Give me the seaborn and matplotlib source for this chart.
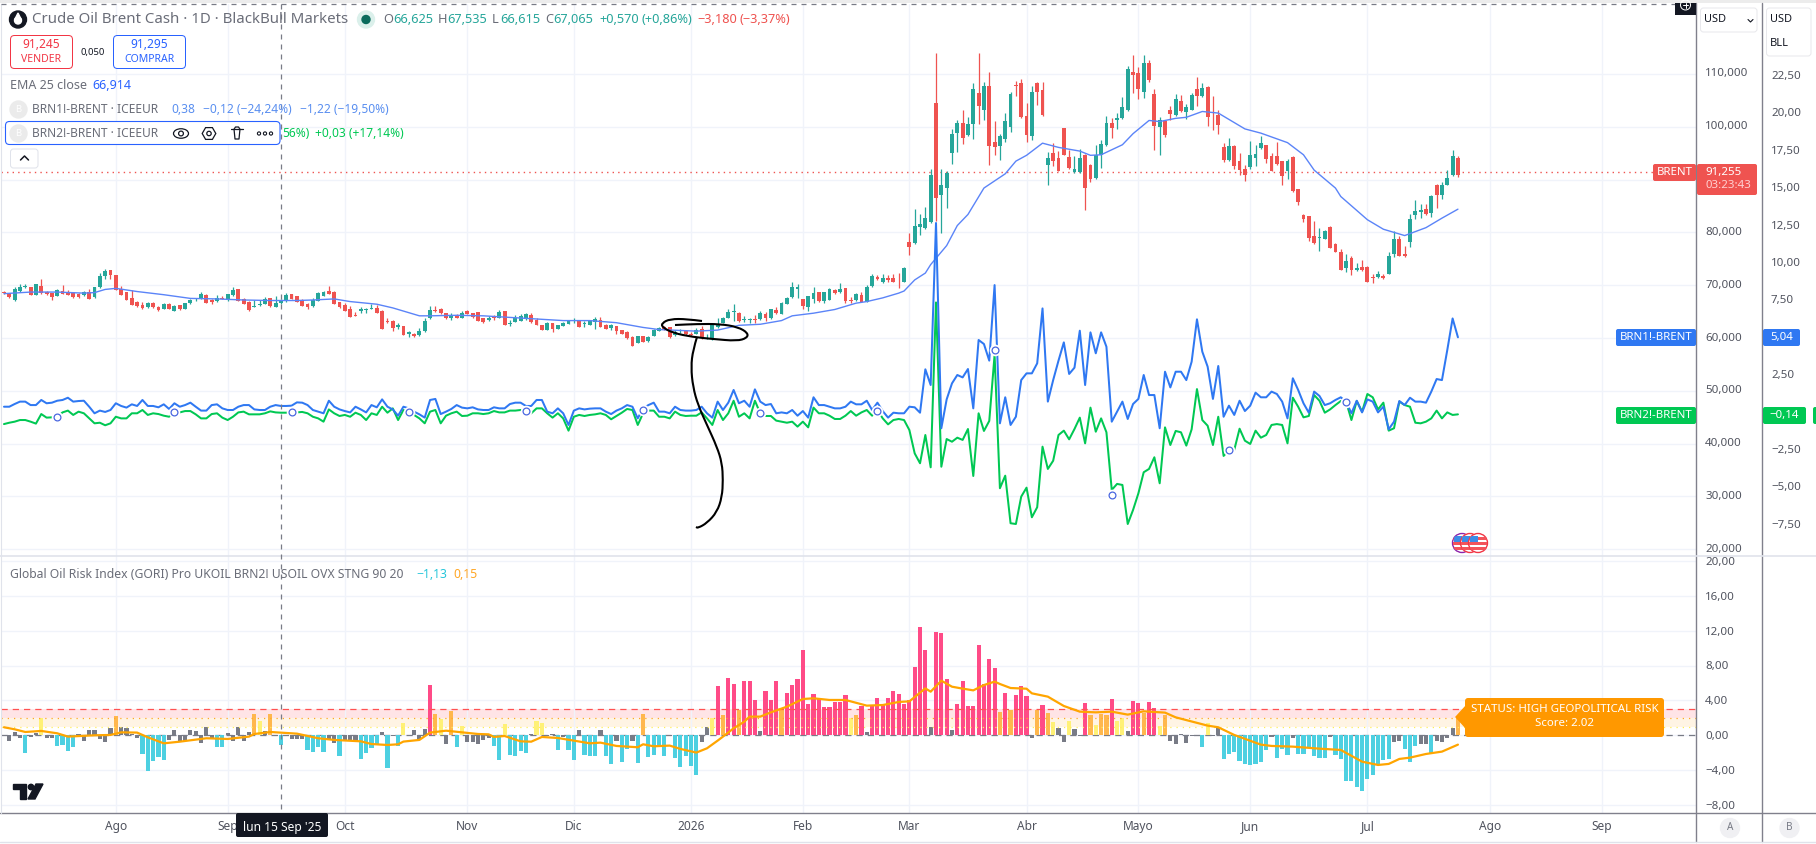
import numpy as np
import pandas as pd
import matplotlib
matplotlib.use("Agg")
import matplotlib.pyplot as plt
from matplotlib.patches import Circle, Ellipse, FancyBboxPatch, PathPatch, Polygon, Rectangle, RegularPolygon
from matplotlib.path import Path
import seaborn as sns

# ---------------------- DATA ----------------------

opens = [68.7,68.5,67.2,68.9,69.7,69.6,68.2,69.9,68.8,68.5,
         68.0,68.9,68.8,68.5,68.4,68.1,68.8,67.7,69.6,71.7,
         72.8,71.9,69.2,68.8,67.6,66.9,66.3,65.8,66.7,65.9,
         65.4,66.5,65.2,66.2,65.5,66.6,67.3,67.4,68.2,67.2,
         67.1,67.6,67.2,68.1,69.2,67.4,66.9,65.9,66.2,66.5,
         67.6,65.8,66.6,67.0,68.3,67.9,67.2,66.5,66.0,67.1,
         68.0,68.9,68.8,66.9,66.3,65.5,64.4,65.2,65.3,65.5,
         65.6,65.2,63.1,63.3,62.1,62.2,60.8,60.8,60.5,61.3,
         63.7,65.3,65.5,64.7,63.7,64.4,63.8,65.2,64.7,64.9,
         63.7,63.5,63.9,63.8,65.1,62.6,63.1,63.3,63.6,64.4,
         63.5,62.4,61.6,62.8,61.7,62.2,62.6,63.2,63.3,62.7,
         62.4,63.1,63.5,62.5,61.9,62.2,61.5,61.2,60.2,59.0,
         60.4,59.4,60.3,61.4,62.0,62.0,60.5,61.3,61.3,60.8,
         60.8,61.7,60.3,59.8,62.0,62.9,63.7,65.0,64.8,63.5,
         63.4,63.6,63.6,64.6,63.7,65.3,64.6,66.5,67.7,69.3,
         67.4,65.8,67.4,68.7,67.1,67.2,69.0,68.7,69.4,67.2,
         67.2,68.2,66.9,69.8,71.6,70.6,71.3,71.3,71.2,70.7,
         78.2,77.9,81.1,80.9,82.0,104.5,87.0,88.5,95.1,98.9,
         100.7,98.5,100.6,106.4,103.1,107.8,97.2,96.4,97.7,99.9,
         108.0,108.3,102.1,98.3,108.3,107.0,92.8,95.0,94.1,99.7,
         94.3,91.5,91.5,94.7,92.8,90.3,94.7,96.5,100.8,101.2,
         101.6,103.2,110.4,110.1,106.6,112.1,106.3,100.0,101.1,103.2,
         102.2,104.9,102.8,103.2,107.2,105.8,107.5,101.9,102.2,96.1,
         93.7,96.4,93.5,92.0,92.3,94.0,95.9,96.5,94.5,94.5,
         93.5,91.6,94.2,88.2,83.3,83.1,79.3,79.0,78.7,81.0,
         77.8,76.3,73.3,75.1,72.8,73.4,73.4,71.5,71.6,71.7,
         72.1,75.9,78.7,76.0,78.2,83.3,83.9,84.4,83.7,88.9,
         87.1,89.0,90.8,94.1]
highs = [68.9,68.6,69.7,70.3,70.3,69.7,70.3,71.1,68.9,68.6,
         69.2,70.1,69.1,68.7,68.6,68.9,69.2,69.7,72.4,73.0,
         72.9,72.0,69.9,68.8,69.0,67.0,66.9,66.9,66.8,66.0,
         66.6,66.6,66.2,66.3,66.7,67.4,67.6,68.7,68.3,67.4,
         68.1,67.9,68.4,69.6,69.2,67.5,67.0,67.2,67.2,67.8,
         67.6,68.0,67.4,68.5,68.4,68.0,67.4,66.7,67.6,68.7,
         68.9,69.9,68.9,66.9,66.6,66.1,65.0,65.8,65.7,66.4,
         66.3,65.3,63.8,63.4,62.9,62.3,61.3,61.0,61.8,63.7,
         66.0,66.0,65.6,64.7,64.7,64.5,65.1,65.3,64.8,65.0,
         63.8,64.2,64.3,65.3,65.2,63.4,64.4,64.6,64.8,64.7,
         63.8,62.4,63.1,62.8,62.5,63.0,63.4,63.7,63.3,63.3,
         63.5,64.0,63.9,62.6,62.6,62.3,61.5,61.3,60.3,60.4,
         60.4,60.3,61.7,62.0,62.2,62.0,61.5,61.7,61.6,61.2,
         61.9,62.2,60.8,62.8,63.7,63.9,65.4,66.5,64.9,64.2,
         63.8,64.4,65.1,64.9,65.5,65.8,66.9,67.8,70.6,70.3,
         67.4,68.0,69.7,68.8,68.8,69.5,69.3,70.4,69.4,67.7,
         68.5,68.8,70.1,72.1,71.9,72.2,71.9,72.1,72.3,73.5,
         79.8,84.4,83.4,84.9,92.0,113.9,92.0,91.6,99.6,101.2,
         103.2,101.8,108.3,113.9,108.5,110.4,101.1,98.7,102.7,106.6,
         108.7,109.1,104.5,107.7,108.4,108.5,95.3,96.9,95.5,99.8,
         95.6,94.4,95.8,94.8,92.9,96.5,97.5,102.1,101.6,102.6,
         105.6,111.5,113.6,111.3,113.6,112.7,107.2,101.8,101.2,104.0,
         106.3,106.1,104.4,106.4,109.5,108.3,107.8,105.9,103.2,96.9,
         97.8,96.5,95.0,92.8,97.3,96.6,98.3,96.6,95.0,97.2,
         93.6,93.9,94.4,88.3,83.5,83.2,82.1,80.8,80.4,81.2,
         77.9,76.8,76.0,75.5,74.2,74.7,73.6,72.2,72.6,72.2,
         76.2,80.2,79.3,77.4,83.5,86.1,85.4,85.4,87.1,89.2,
         89.6,91.8,95.6,94.5]
lows = [68.3,67.6,67.1,68.8,69.4,68.1,68.1,68.4,68.2,67.2,
        67.9,68.3,68.1,67.6,67.6,67.9,67.4,67.6,69.4,71.2,
        71.2,69.0,68.1,67.2,66.2,65.9,65.4,65.7,65.7,65.1,
        65.4,65.4,65.1,65.3,65.4,66.5,67.1,67.3,66.7,66.5,
        66.9,67.3,67.1,68.0,67.1,66.4,65.1,65.8,66.0,66.4,
        65.9,65.8,66.5,66.9,67.3,66.9,66.0,65.4,65.9,67.0,
        67.9,68.3,66.4,65.7,65.1,64.0,64.2,64.8,64.7,65.4,
        64.7,61.7,62.9,61.3,61.7,60.6,60.2,60.2,60.3,61.2,
        63.6,64.9,64.6,63.6,63.5,63.7,63.7,64.5,63.8,63.2,
        62.9,63.3,63.4,63.7,62.4,62.3,63.0,63.2,63.5,62.9,
        62.4,61.5,61.5,61.2,61.7,62.2,62.6,62.8,62.0,62.0,
        62.4,61.7,62.0,61.7,61.6,60.8,60.7,59.9,58.4,59.0,
        59.2,59.3,60.3,61.3,61.5,60.0,60.4,61.0,60.6,60.3,
        60.8,59.9,59.9,59.7,61.9,62.8,63.7,63.3,63.0,63.0,
        62.9,62.9,63.4,63.2,63.6,64.6,64.5,66.4,67.6,67.6,
        65.4,65.1,66.7,66.9,66.6,67.2,68.4,68.6,66.7,66.6,
        67.1,66.8,66.8,69.7,70.9,70.5,70.7,70.6,69.4,70.6,
        75.7,77.8,79.5,80.6,81.8,82.2,79.9,84.7,93.0,95.3,
        96.8,98.3,97.7,100.6,101.3,92.8,94.7,93.7,97.2,99.0,
        105.8,101.7,97.2,97.5,104.2,102.1,89.0,92.5,91.6,94.6,
        92.0,91.3,91.3,84.2,89.6,90.2,92.2,96.4,97.9,99.6,
        101.5,102.9,106.4,105.3,105.4,108.4,95.6,94.7,98.0,101.2,
        102.1,102.8,101.5,103.2,104.0,105.6,100.2,99.4,98.7,93.4,
        93.6,92.1,90.8,89.8,92.1,92.6,95.8,93.1,91.6,92.8,
        89.0,90.1,87.7,85.2,81.9,78.4,77.8,76.5,78.7,77.0,
        76.3,72.8,72.5,71.9,72.7,72.6,70.6,70.4,71.4,71.2,
        72.1,75.4,75.5,75.4,77.2,82.5,82.8,83.3,83.0,84.7,
        86.4,88.9,90.7,90.4]
closes = [68.5,67.8,69.2,69.6,69.8,68.2,70.2,68.5,68.3,67.8,
          69.0,68.4,68.2,67.8,67.8,68.7,67.4,69.6,71.7,72.7,
          71.9,69.0,68.2,67.2,66.3,66.0,65.6,66.6,65.8,65.3,
          66.5,65.5,66.1,65.4,66.6,67.2,67.4,68.3,66.7,66.9,
          67.5,67.4,68.3,69.0,67.1,66.5,65.3,66.0,66.5,67.4,
          66.0,66.6,67.2,68.2,67.4,66.9,66.0,65.8,67.2,68.5,
          68.7,68.4,66.5,65.8,65.2,64.0,64.2,65.4,65.5,65.6,
          64.7,61.7,63.0,61.9,62.4,60.6,61.2,60.4,61.3,63.3,
          65.3,65.1,64.7,63.7,64.4,63.8,64.7,64.6,64.0,63.3,
          63.1,63.7,63.8,64.9,62.5,62.7,63.8,64.2,64.6,63.0,
          62.5,61.6,62.8,61.7,62.4,62.9,63.3,63.3,62.1,62.8,
          63.3,63.6,62.1,61.7,62.4,61.3,60.8,60.0,58.5,60.3,
          59.2,60.1,61.5,61.9,61.7,60.1,61.2,61.4,60.7,60.6,
          61.6,60.1,60.4,62.6,62.6,63.7,64.9,65.1,63.2,63.6,
          63.5,63.5,64.8,63.7,65.4,64.7,66.7,67.6,69.7,69.7,
          66.1,67.9,68.5,67.0,68.8,69.2,68.6,69.3,67.0,67.1,
          68.3,66.9,69.7,71.7,71.1,71.3,70.9,70.7,71.1,73.2,
          77.3,81.2,81.6,82.7,90.9,86.5,89.0,91.3,98.7,100.8,
          97.8,100.6,107.2,103.9,107.8,96.4,96.1,98.2,101.1,106.3,
          107.8,101.8,98.5,106.6,106.5,102.3,94.0,93.6,91.7,94.7,
          92.2,92.0,94.1,88.5,90.1,94.6,96.8,100.8,99.8,101.7,
          103.7,111.0,109.9,107.2,112.1,108.8,100.1,101.3,98.5,102.4,
          105.3,102.9,103.7,106.1,105.9,107.3,101.9,101.8,100.4,93.7,
          96.4,92.5,91.8,90.9,94.6,94.9,96.9,93.9,91.6,92.9,
          90.7,93.5,87.9,85.7,82.5,78.9,77.9,79.0,80.2,77.1,
          76.3,72.8,74.6,72.8,73.2,72.8,70.6,71.3,72.2,71.4,
          75.5,78.7,75.6,75.5,82.5,84.0,84.2,83.5,86.8,87.0,
          89.0,90.3,94.5,90.8]

ema_bars = [0,5,10,15,17,19,21,25,30,35,40,45,50,55,58,62,65,70,73,78,80,85,90,95,100,105,110,115,120,123,
            130,134,138,142,146,148,152,156,160,162,165,168,169,171,173,174,177,179,181,184,188,190,192,195,198,
            202,204,206,210,212,215,217,220,222,225,228,233,236,241,244,246,250,251,256,259,263,267,270,273]
ema_vals = [68.4,68.7,68.7,68.5,68.6,69.2,69.4,68.8,68.2,67.5,67.4,67.2,67.1,67.1,67.2,67.4,66.9,66.4,65.7,64.2,
            64.2,64.3,64.2,63.9,63.6,63.3,63.3,62.9,62.0,61.6,61.3,61.5,62.4,62.6,63.3,64.2,64.7,65.4,66.6,66.9,
            67.6,68.5,68.9,71.0,72.3,73.9,77.5,81.3,83.4,88.4,91.1,93.5,94.6,96.9,96.1,95.4,94.6,94.7,96.6,98.7,
            101.2,101.0,101.6,101.8,102.9,102.6,99.6,98.8,97.0,94.7,91.8,88.4,86.8,82.4,80.6,79.4,80.9,82.7,84.4]

brn1_spread = [.32,.32,.50,.66,.66,.43,.43,.77,.55,.59,.72,.77,.92,.66,.70,.72,.32,-.12,.06,-.03,
               .10,.55,.37,.26,.48,.37,.77,.37,.37,.28,.48,.17,.55,.32,.43,.59,.32,.06,.06,.43,
               .48,.21,.10,.10,.32,.43,.43,.14,.10,.10,.32,.43,.37,.37,.39,.61,.59,.43,.10,-.01,
               -.12,.72,.32,.14,.03,-.06,.32,.14,-.06,.43,.28,.81,.32,.14,-.28,.32,.21,-.01,-.19,-.41,
               .77,.84,-.17,-.01,.17,.43,.26,.21,.28,.14,
               .10,.10,.28,.21,.21,.50,.59,.59,.37,.37,.77,.77,-.01,-.12,.21,-.12,-.90,.06,.21,.14,
               .19,.21,.21,-.01,-.17,.06,.21,.43,.32,-.46,.21,.43,.59,-.01,-.01,-.12,.32,.10,.06,.06,
               .10,.32,-.12,-.41,.66,.10,.59,1.44,.55,.72,.32,1.48,.66,.43,.50,-.12,-.06,-.12,.10,-.28,
               .03,-.41,.95,.43,.43,.32,.21,.21,.32,.66,.48,.48,.72,.10,.59,.03,-.41,-.08,-.12,-.12,
               .32,.28,-.08,2.82,1.77,12.6,-1.12,.81,1.88,2.44,2.28,2.84,.21,4.78,4.51,3.40,8.45,-.79,.95,-.90,
               -.35,2.10,2.55,2.55,3.22,6.89,.66,2.10,3.40,4.62,2.51,2.93,5.40,1.77,5.29,3.89,5.29,4.33,-.68,-.01,
               .66,-.50,.50,.84,2.44,1.10,1.10,-1.12,2.66,1.61,2.66,2.66,2.10,3.33,6.16,4.00,3.00,.84,3.04,-.35,
               .39,-.23,.72,.03,.39,1.26,.95,.95,1.33,1.17,.66,-.46,2.22,1.44,.55,-.08,1.33,1.04,.43,.55,
               .77,.95,.66,-.12,.72,-.06,.81,.66,-.06,.32,-1.19,-.68,.70,.43,.92,.66,.66,.59,1.33,2.17,
               2.10,4.11,6.22,4.96]
brn2_spread = [-.84,-.75,-.68,-.57,-.57,-.68,-.81,-.17,-.41,-.39,-.35,-.06,.06,-.23,-.01,-.12,-.46,-.79,-.75,-.92,
               -.79,-.35,-.46,-.46,-.12,-.12,.10,-.23,-.12,-.17,-.28,-.35,-.06,-.06,.03,.03,-.19,-.46,-.46,-.17,
               -.12,-.41,-.57,-.35,-.06,-.01,-.19,-.19,-.19,-.12,.01,-.06,-.08,-.08,-.06,-.06,-.03,-.12,-.35,-.46,
               -.68,.14,-.12,-.30,-.23,-.35,-.08,-.23,-.57,-.12,-.23,.32,-.08,.21,-.57,.10,-.06,-.23,-.46,-.79,
               -.01,.10,-.79,-.28,-.12,-.01,-.30,-.28,-.12,-.12,
               -.17,-.12,.03,-.06,-.06,.06,.06,.10,-.01,-.12,.21,.21,-.12,-.41,-.12,-.46,-1.28,-.35,-.23,-.30,
               -.23,-.19,-.12,-.23,-.52,-.30,-.08,.17,.10,-.90,-.12,.06,.06,-.35,-.35,-.46,-.01,-.23,-.30,-.28,
               -.28,-.06,-.46,-.90,.10,-.57,-.12,.72,-.35,-.12,-.46,.72,-.12,-.30,-.30,-.61,-.68,-.75,-.68,-1.01,
               -.68,-1.06,.26,-.12,-.12,-.28,-.50,-.50,-.28,.03,-.28,-.06,.10,-.28,.10,-.46,-.86,-.57,-.50,-.57,
               -1.24,-2.80,-3.46,-1.57,-3.73,7.29,-3.69,-1.84,-2.02,-1.75,-1.90,-1.17,-4.31,-.12,-1.30,-.63,3.78,-5.13,-4.29,-7.47,
               -7.52,-5.69,-5.09,-7.07,-6.40,-2.35,-3.84,-3.29,-1.57,-1.28,-1.86,-1.17,-.41,-2.13,.26,-1.35,-.46,-1.39,-5.24,-4.84,
               -4.91,-7.52,-6.58,-5.47,-4.06,-3.84,-3.06,-4.80,-1.06,-2.24,-1.30,-1.39,-2.28,-1.19,1.50,-.57,-.95,-2.24,-.35,-2.97,
               -2.59,-2.57,-1.15,-1.95,-2.17,-1.28,-1.75,-1.57,-.90,-.84,-.90,-2.13,.92,.32,-.39,-.30,1.10,.72,-.08,.14,
               .43,.70,.66,-.57,.70,-.01,1.17,.95,.14,.59,-1.28,-1.12,.66,.43,.32,-.75,-.79,-.68,-.46,.06,
               -.46,-.06,-.23,-.19]

break_bars = [10,32,54,76,98,120,142,164,186,208,230,252]
break_vals = [-.35,-.05,-.05,-.05,.01,.08,-.12,.05,4.11,-5.58,-2.57,.65]

gori = [-.1,-.6,.34,-.34,-1.98,-.15,.3,1.99,-.3,-.3,-1.18,-1.07,-1.79,-1.34,.1,-.6,.6,.6,-.45,-.76,
        .84,2.2,.95,.84,.15,-.3,-2.14,-4.08,-2.94,-2.48,-2.82,-.53,.6,-.65,-.65,.6,.5,-.84,.95,-.3,
        -1.34,-1.34,.27,-.6,.95,-.65,.38,2.44,1.64,.5,2.44,-.08,-1.1,-.08,-.45,-.42,-.42,-1.68,-1.9,-1.34,
        -1.9,-.53,-.88,-2.37,-.53,-.53,-.76,-2.71,-2.02,-1.45,-1.01,.38,-3.74,-.08,-1.22,1.41,-.08,.6,-.45,.72,
        5.76,2.44,1.87,-.99,2.79,-1.34,1.07,-.76,-.76,-.99,
        -.53,-.3,-1.22,-2.82,1.3,-2.25,-2.37,-1.79,-2.02,.15,1.64,1.41,-.08,.15,-1.68,-.15,-1.68,-2.82,.6,-2.25,
        -2.37,-2.37,.6,-2.37,-3.28,-.65,-3.05,-1.56,-.65,-3.17,2.44,-2.48,-2.25,-1.1,-2.37,-.08,-2.6,-3.63,-2.37,-3.51,
        -4.54,-.76,.98,1.98,5.65,2.33,6.56,5.88,2.95,6.22,6.22,4.05,.5,5.08,4.05,6.22,2.9,4.85,5.76,6.45,
        9.77,3.59,4.73,4.27,3.24,3.24,3.82,3.82,4.62,1.98,2.33,3.36,.38,3.47,4.27,3.47,4.27,5.08,4.73,3.59,
        4.05,7.82,12.4,9.77,.95,11.83,11.72,6.45,.6,3.59,
        6.22,3.36,3.36,10.34,5.88,8.74,7.71,2.67,4.85,2.9,4.62,5.65,4.5,-.3,2.95,3.47,2.56,1.53,.84,-.76,
        1.64,.72,-.08,3.7,2.33,1.18,2.44,2.33,4.16,1.64,1.98,.5,3.93,3.7,2.52,3.82,3.09,1.07,2.33,-.65,
        -.99,.15,-.88,-.08,-.08,-1.34,1.41,-.08,.84,-2.71,-2.14,-1.91,-2.94,-3.28,-3.4,-3.28,-3.05,-1.68,-.15,-2.6,
        -1.56,-2.25,-.34,-2.14,-2.14,-1.45,-2.37,-2.6,-2.6,-.15,-2.25,-2.71,-5.23,-5.23,-5.92,-6.37,-5.0,-4.54,-3.4,-2.82,
        -2.71,-.76,-.65,-1.56,-3.05,-1.22,-.99,-.99,-2.14,-.65,-.76,-.3,.84,2.02]

signal_bars = [0,2,4,7,10,12,17,20,22,25,27,30,33,38,42,46,47,50,55,59,62,67,69,72,74,75,78,80,83,89,
               91,92,94,97,99,101,104,107,110,112,115,119,120,122,125,127,130,132,134,135,137,139,140,142,144,147,150,152,155,158,
               162,165,168,170,173,174,176,178,180,182,184,186,187,189,192,193,196,199,202,205,208,211,214,218,220,226,228,231,
               236,238,242,247,251,255,258,260,262,264,267,270,273]
signal_vals = [.92,.69,.38,.5,.23,-.15,0,.04,.34,.31,-.23,-.92,-.73,-.34,-.42,-.15,.15,.38,.19,-.34,-.53,-.69,-1.0,-1.11,-1.03,-.72,-.53,.31,.53,.15,
               .11,-.19,-.08,-.69,-.73,-.19,-.31,-.61,-.92,-.84,-1.22,-1.37,-1.03,-1.26,-1.18,-1.56,-1.98,-1.49,-.61,-.15,.8,1.56,2.14,2.14,2.63,3.28,4.16,4.24,4.05,4.05,
               3.4,3.47,3.82,3.89,5.38,5.0,6.26,5.57,5.35,5.15,5.76,6.15,5.88,5.42,5.34,4.81,4.43,3.36,2.71,2.63,2.71,2.37,2.75,2.6,2.06,1.11,.92,.04,
               -1.07,-1.22,-1.3,-1.53,-1.68,-3.02,-3.4,-3.28,-2.71,-2.56,-2.14,-1.87,-1.07]

month_bars = [21,42,64,87,107,129,150,170,192,213,234,256,279,300]
month_labels = ['Ago','Sep','Oct','Nov','Dic','2026','Feb','Mar','Abr','Mayo','Jun','Jul','Ago','Sep']

price_ticks = [110,100,80,70,60,50,40,30,20]
price_labels = ['110,000','100,000','80,000','70,000','60,000','50,000','40,000','30,000','20,000']
price_grid = [20,30,40,50,60,70,80,90,100,110]
spread_ticks = [22.5,20,17.5,15,12.5,10,7.5,2.5,-2.5,-5,-7.5]
spread_labels = ['22,50','20,00','17,50','15,00','12,50','10,00','7,50','2,50','−2,50','−5,00','−7,50']
gori_ticks = [20,16,12,8,4,0,-4,-8]
gori_labels = ['20,00','16,00','12,00','8,00','4,00','0,00','−4,00','−8,00']

# ---------------------- STYLE ----------------------

sns.set_theme(style="white")
plt.rcParams['font.family'] = ['Noto Sans', 'DejaVu Sans']

TEAL = '#26a69a'
RED = '#ef5350'
BLUE = '#2f78f2'
GREEN = '#00c853'
GRID = '#f0f3fa'
AXIS = '#787b86'
TICK = '#50535e'
W, H = 1816, 844


def box(x0, y0, x1, y1):
    # pixel box to figure fractions
    return [x0 / W, 1 - y1 / H, (x1 - x0) / W, (y1 - y0) / H]


fig = plt.figure(figsize=(18.16, 8.44), dpi=100, facecolor='white')
ax_main = fig.add_axes(box(1, 4, 1696, 556))
ax_sub = fig.add_axes(box(1, 556, 1696, 813))

xlim = (-0.56, 317.7)
bars = np.arange(len(closes))

# ---------------------- PRICE PANE ----------------------

candles = pd.DataFrame({'open': opens, 'high': highs, 'low': lows, 'close': closes}, index=bars)
up = candles['close'] >= candles['open']
colors = up.map({True: TEAL, False: RED}).tolist()

ax_main.vlines(bars, candles['low'], candles['high'], colors=colors, linewidth=0.9, zorder=2)
ax_main.bar(bars, (candles['close'] - candles['open']).abs().clip(lower=0.15),
            bottom=candles[['open', 'close']].min(axis=1), width=0.72, color=colors, linewidth=0, zorder=3)
sns.lineplot(x=ema_bars, y=ema_vals, ax=ax_main, color='#5b84f8', linewidth=1.0, estimator=None, sort=False, zorder=4)

ax_main.set_xlim(xlim)
ax_main.set_ylim(110 - (556 - 74) / 5.28, 110 - (4 - 74) / 5.28)
ax_main.set_xticks(month_bars)
ax_main.set_yticks(price_grid)
ax_main.grid(True, color=GRID, linewidth=1)
ax_main.set_axisbelow(True)
ax_main.axhline(91.4, color=RED, linestyle=(0, (1, 3)), linewidth=1, zorder=1)
sns.despine(ax=ax_main, left=True, bottom=True, right=True, top=True)
ax_main.set_ylabel('')

# price labels, without 90 which sits under the BRENT box
for val, txt in zip(price_ticks, price_labels):
    ax_main.annotate(txt, xy=(1, val), xycoords=('axes fraction', 'data'), xytext=(6.5, 0),
                     textcoords='offset points', ha='left', va='center', fontsize=8.3, color=TICK,
                     annotation_clip=False)

# second scale for the two spreads
ax_spread = ax_main.twinx()
ax_main.tick_params(left=False, right=False, bottom=False, labelleft=False, labelbottom=False)
sns.lineplot(x=bars, y=brn2_spread, ax=ax_spread, color=GREEN, linewidth=1.45, estimator=None, sort=False, zorder=3)
sns.lineplot(x=bars, y=brn1_spread, ax=ax_spread, color=BLUE, linewidth=1.45, estimator=None, sort=False, zorder=4)
ax_spread.scatter(break_bars, break_vals, s=70, color='white', linewidth=0, zorder=5)
ax_spread.scatter(break_bars, break_vals, s=24, facecolor='white', edgecolor='#4a67e0', linewidth=0.9, zorder=6)
ax_spread.set_xlim(xlim)
ax_spread.set_ylim((411.5 - 556) / 14.96, (411.5 - 4) / 14.96)
ax_spread.set_yticks(spread_ticks)
ax_spread.set_yticklabels(spread_labels, fontsize=8.3, color=TICK)
ax_spread.tick_params(axis='y', length=0, pad=54, right=False)
ax_spread.grid(False)
ax_spread.patch.set_alpha(0)
ax_spread.set_ylabel('')
sns.despine(ax=ax_spread, left=True, bottom=True, right=True, top=True)

# ---------------------- RISK INDEX PANE ----------------------


def level(v):
    if v >= 3:
        return 'extreme'
    if v >= 2:
        return 'high'
    if v >= 1:
        return 'medium'
    if v <= -1:
        return 'low'
    return 'neutral'


gori_df = pd.DataFrame({'bar': bars, 'gori': gori})
gori_df['level'] = gori_df['gori'].map(level)
level_colors = {'extreme': '#ff4b87', 'high': '#ffb74d', 'medium': '#fff176', 'low': '#4dd0e1', 'neutral': '#787b86'}

ax_sub.axhspan(2, 3, color='#ffe4e6', linewidth=0, zorder=0.5)
ax_sub.axhspan(1, 2, color='#fff4e4', linewidth=0, zorder=0.5)
ax_sub.axhline(0, color=AXIS, linestyle=(0, (5, 4)), linewidth=0.9, zorder=0.6)
sns.barplot(data=gori_df, x='bar', y='gori', hue='level', palette=level_colors, dodge=False, saturation=1,
            native_scale=True, width=0.78, legend=False, ax=ax_sub, zorder=2, linewidth=0)
ax_sub.axhline(3, color='#ff5252', linestyle=(0, (5, 4)), linewidth=0.9, zorder=3)
ax_sub.axhline(2, color='#ffa726', linestyle=(0, (1, 4)), linewidth=0.9, zorder=3)
ax_sub.axhline(1, color='#ffee58', linestyle=(0, (1, 4)), linewidth=0.9, zorder=3)
sns.lineplot(x=signal_bars, y=signal_vals, ax=ax_sub, color='#ffa500', linewidth=1.6, estimator=None, sort=False, zorder=4)

ax_sub.set_xlim(xlim)
ax_sub.set_ylim(-(813 - 735.3) / 8.725, (735.3 - 556) / 8.725)
ax_sub.set_xticks(month_bars)
ax_sub.set_xticklabels(month_labels, fontsize=8.6, color=TICK)
ax_sub.get_xticklabels()[5].set_fontweight('bold')
ax_sub.set_yticks(gori_ticks)
ax_sub.yaxis.tick_right()
ax_sub.set_yticklabels(gori_labels, fontsize=8.3, color=TICK)
ax_sub.tick_params(axis='y', length=0, pad=6.5)
ax_sub.tick_params(axis='x', length=0, pad=5)
ax_sub.grid(True, color=GRID, linewidth=1)
ax_sub.set_axisbelow(True)
ax_sub.set_xlabel('')
ax_sub.set_ylabel('')
sns.despine(ax=ax_sub, left=True, bottom=True, right=True, top=True)

# ---------------------- CHROME OVERLAY (pixel coordinates) ----------------------

ov = fig.add_axes([0, 0, 1, 1], zorder=10)
ov.set_xlim(0, W)
ov.set_ylim(H, 0)
ov.axis('off')
ov.patch.set_alpha(0)


def label(x, y, s, color=TICK, size=11.5, ha='left', va='center', weight='normal'):
    ov.text(x, y, s, color=color, fontsize=size * 0.72, ha=ha, va=va, fontweight=weight)


def rbox(x0, y0, x1, y1, face='white', edge='none', lw=1.0, r=3, z=2):
    ov.add_patch(FancyBboxPatch((x0, y0), x1 - x0, y1 - y0, boxstyle=f"round,pad=0,rounding_size={r}",
                                facecolor=face, edgecolor=edge, linewidth=lw * 0.72, zorder=z))


def scribble(xs, ys):
    # freehand stroke, smoothed through the midpoints
    pts = list(zip(xs, ys))
    verts = [pts[0]]
    codes = [Path.MOVETO]
    for a, b in zip(pts[1:-1], pts[2:]):
        verts += [a, ((a[0] + b[0]) / 2, (a[1] + b[1]) / 2)]
        codes += [Path.CURVE3, Path.CURVE3]
    verts.append(pts[-1])
    codes.append(Path.LINETO)
    ov.add_patch(PathPatch(Path(verts, codes), facecolor='none', edgecolor='black', lw=1.5, zorder=6))


# frame lines
ov.add_patch(Rectangle((0, 0), W, 3, facecolor='#ececec', edgecolor='none'))
ov.plot([1696, 1696], [3, 842], color='#80808c', lw=1.0)
ov.plot([1762, 1762], [3, 842], color='#80808c', lw=1.0)
ov.plot([0, W], [556, 556], color='#e0e3eb', lw=1.2)
ov.plot([0, W], [813, 813], color='#80808c', lw=1.0)
ov.plot([0, W], [842, 842], color='#e0e3eb', lw=1.0)
ov.plot([1, 1], [4, 813], color='#e0e3eb', lw=0.8)

# crosshair
ov.plot([281, 281], [4, 813], color=AXIS, lw=0.9, linestyle=(0, (4, 4)))
ov.plot([1, 1675], [4, 4], color=AXIS, lw=0.9, linestyle=(0, (4, 4)))
rbox(236, 813, 328, 837, face='#131722', r=2)
label(282, 828, "lun 15 Sep '25", color='white', size=12, ha='center')

# header row
ov.add_patch(Circle((18, 19.5), 8.5, color='#131722'))
ov.add_patch(Polygon([(18, 13), (14.5, 20), (21.5, 20)], color='white'))
ov.add_patch(Circle((18, 20.5), 3.5, color='white'))
label(32, 19.5, 'Crude Oil Brent Cash · 1D · BlackBull Markets', color='#6a6d78', size=15)
ov.add_patch(Circle((366, 19.5), 8.5, color='#dbf0eb'))
ov.add_patch(Circle((366, 19.5), 4, color='#0a6b5c'))
for x, s in [(383, 'O'), (438, 'H'), (492, 'L'), (545, 'C')]:
    label(x, 19.5, s, color='#6a6d78', size=12.8)
for x, s in [(393, '66,625'), (447, '67,535'), (500, '66,615'), (553, '67,065'), (599, '+0,570'), (642, '(+0,86%)')]:
    label(x, 19.5, s, color=TEAL, size=12.8)
label(697, 19.5, '−3,180', color=RED, size=12.8)
label(740, 19.5, '(−3,37%)', color=RED, size=12.8)

# buy and sell boxes
rbox(10.5, 35.5, 72.5, 68.5, edge='#f23645', lw=1, r=4)
label(41.5, 45, '91,245', color='#f23645', size=12, ha='center')
label(41.5, 59, 'VENDER', color='#f23645', size=10.5, ha='center')
label(93, 52, '0,050', color='#131722', size=9.5, ha='center')
rbox(113.5, 35.5, 185.5, 68.5, edge='#2962ff', lw=1, r=4)
label(149.5, 45, '91,295', color='#2962ff', size=12, ha='center')
label(149.5, 59, 'COMPRAR', color='#2962ff', size=10.5, ha='center')

# legend rows
label(10, 85.5, 'EMA 25 close', color='#6a6d78', size=12.5)
label(92, 85.5, '66,914', color='#2962ff', size=12.5)
ov.add_patch(Circle((18.5, 109.5), 8.5, color='#ebebeb'))
label(18.5, 109.5, 'B', color='white', size=9.5, ha='center', weight='bold')
label(32, 109.5, 'BRN1!-BRENT · ICEEUR', color='#6a6d78', size=12)
label(171, 109.5, '0,38', color='#5a8ff0', size=12)
label(203, 109.5, '−0,12 (−24,24%)', color='#5a8ff0', size=12)
label(300, 109.5, '−1,22 (−19,50%)', color='#5a8ff0', size=12)

rbox(5.5, 121.5, 280, 144.5, edge='#2962ff', lw=1.1, r=4, z=3)
ov.add_patch(Circle((18.5, 133.5), 8.5, color='#ebebeb', zorder=4))
label(18.5, 133.5, 'B', color='white', size=9.5, ha='center', weight='bold')
ov.texts[-1].set_zorder(5)
label(32, 133.5, 'BRN2!-BRENT · ICEEUR', color='#6a6d78', size=12)
ov.texts[-1].set_zorder(5)
label(282, 133.5, '56%)', color=GREEN, size=12)
label(315, 133.5, '+0,03 (+17,14%)', color=GREEN, size=12)
# eye, settings, trash and dots icons
ov.add_patch(Ellipse((181, 133.5), 15, 9.5, facecolor='white', edgecolor='#131722', lw=0.9, zorder=4))
ov.add_patch(Circle((181, 133.5), 2.4, facecolor='white', edgecolor='#131722', lw=0.9, zorder=5))
ov.add_patch(RegularPolygon((209, 133.5), 6, radius=6.8, orientation=np.pi / 2, facecolor='white', edgecolor='#131722', lw=0.9, zorder=4))
ov.add_patch(Circle((209, 133.5), 2.2, facecolor='white', edgecolor='#131722', lw=0.9, zorder=5))
ov.plot([231, 243], [128.5, 128.5], color='#131722', lw=0.9, zorder=4)
ov.plot([234, 235, 239, 240], [129, 139, 139, 129], color='#131722', lw=0.9, zorder=4)
ov.plot([234.5, 235.5, 238.5, 239.5], [128.5, 127, 127, 128.5], color='#131722', lw=0.9, zorder=4)
for x in [259, 265, 271]:
    ov.add_patch(Circle((x, 133.5), 1.6, facecolor='white', edgecolor='#131722', lw=0.8, zorder=4))
# collapse button
rbox(10.5, 149, 38, 168, edge='#e0e3eb', lw=1, r=3)
ov.plot([20.5, 24.5, 28.5], [160, 156, 160], color='#131722', lw=1.1, zorder=4)

label(10, 574, 'Global Oil Risk Index (GORI) Pro UKOIL BRN2! USOIL OVX STNG 90 20', color='#6a6d78', size=12.2)
label(416, 574, '−1,13', color='#26c6da', size=12.2)
label(453, 574, '0,15', color='#ffa726', size=12.2)

# handwritten scribble
loop_x = [702, 687, 670, 662, 662, 673, 693, 713, 737, 747, 748, 738, 720, 697, 675]
loop_y = [321, 319, 319, 323, 327, 333, 337, 339, 341, 338, 333, 327, 324, 324, 325]
tail_x = [697, 693, 691, 693, 698, 707, 717, 722, 723, 722, 717, 707, 698, 696]
tail_y = [337, 350, 367, 387, 405, 425, 447, 463, 480, 497, 512, 523, 528, 527]
scribble(loop_x, loop_y)
scribble(tail_x, tail_y)

# event flags
for x, edge in [(1462, '#8e24aa'), (1470, '#f23645'), (1478, '#f23645')]:
    disc = Circle((x, 543), 9.5, facecolor='white', edgecolor=edge, lw=1.0, zorder=5)
    ov.add_patch(disc)
    for k in range(3):
        stripe = Rectangle((x - 9, 537 + k * 5), 18, 2.5, facecolor='#f2545b', edgecolor='none', zorder=5)
        ov.add_patch(stripe)
        stripe.set_clip_path(disc)
    canton = Rectangle((x - 8, 536), 8, 6, facecolor='#3c8ce7', edgecolor='none', zorder=5)
    ov.add_patch(canton)
    canton.set_clip_path(disc)

# status callout
ov.add_patch(Polygon([(1456, 717), (1466, 706), (1466, 728)], color='#ff9800', zorder=5))
rbox(1465, 698, 1664, 737, face='#ff9800', r=3, z=5)
label(1564.5, 709, 'STATUS: HIGH GEOPOLITICAL RISK', color='white', size=11.5, ha='center')
ov.texts[-1].set_zorder(6)
label(1564.5, 724, 'Score: 2.02', color='white', size=11.5, ha='center')
ov.texts[-1].set_zorder(6)

# logo
ov.add_patch(Polygon([(13, 784), (26, 784), (26, 799), (19.5, 799), (19.5, 789), (13, 789)], color='#131722'))
ov.add_patch(Circle((31, 787), 2.7, color='#131722'))
ov.add_patch(Polygon([(43, 784), (35, 799), (28, 799), (36, 784)], color='#131722'))

# price labels on the axes
rbox(1653, 164, 1696, 181, face=RED, r=2)
label(1674.5, 172.5, 'BRENT', color='white', size=11.5, ha='center')
rbox(1697, 164, 1757, 195, face=RED, r=2)
label(1705, 172, '91,255', color='white', size=11.5, weight='bold')
label(1705, 186, '03:23:43', color='#ffd0d0', size=11.5)
rbox(1616, 329, 1696, 346, face=BLUE, r=2)
label(1656, 337.5, 'BRN1!-BRENT', color='white', size=11.5, ha='center')
rbox(1763, 329, 1800, 346, face=BLUE, r=2)
label(1781.5, 337.5, '5,04', color='white', size=11.5, ha='center', weight='bold')
rbox(1616, 407, 1696, 424, face=GREEN, r=2)
label(1656, 415.5, 'BRN2!-BRENT', color='white', size=11.5, ha='center')
rbox(1763, 407, 1806, 424, face=GREEN, r=2)
label(1784.5, 415.5, '−0,14', color='white', size=11.5, ha='center', weight='bold')
rbox(1813, 407, 1818, 424, face=GREEN, r=2)

# currency selectors and corner buttons
ov.add_patch(Rectangle((1675, 3), 21, 12, facecolor='#131722', edgecolor='none', zorder=4))
ov.add_patch(Circle((1685.5, 5), 5, facecolor='none', edgecolor='white', lw=0.7, zorder=5))
ov.plot([1683, 1688], [5, 5], color='white', lw=0.7, zorder=5)
ov.plot([1685.5, 1685.5], [2.5, 7.5], color='white', lw=0.7, zorder=5)
rbox(1700.5, 8, 1757, 32, edge='#e8e8ec', lw=1, r=3)
label(1704, 20, 'USD', color='#131722', size=11)
ov.plot([1748, 1750.5, 1753], [19.5, 22, 19.5], color='#131722', lw=0.8, zorder=4)
rbox(1766.5, 8, 1811, 56, edge='#e8e8ec', lw=1, r=3)
label(1770, 20, 'USD', color='#131722', size=11)
label(1770, 44, 'BLL', color='#131722', size=11)
for x, s in [(1730, 'A'), (1789.5, 'B')]:
    ov.add_patch(Circle((x, 828), 9.5, color='#f0f0f3'))
    label(x, 828, s, color=AXIS, size=10, ha='center')

fig.savefig('out.png', dpi=100)
